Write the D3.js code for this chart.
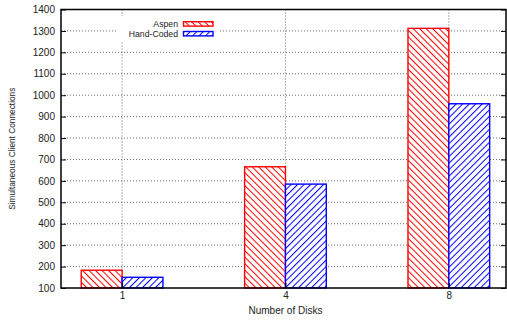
<!DOCTYPE html>
<html>
<head>
<meta charset="utf-8">
<script src="https://cdn.jsdelivr.net/npm/d3@7"></script>
<style>
  html, body { margin: 0; padding: 0; background: #fff; }
  svg { display: block; font-family: "Liberation Sans", Arial, Helvetica, sans-serif; }
</style>
</head>
<body>
<script>
// Simultaneous client connections vs. number of disks
const categories = ["1", "4", "8"];
const aspenValues = [183, 666, 1312];
const handCodedValues = [150, 585, 960];
const seriesNames = ["Aspen", "Hand-Coded"];
const yTickValues = [100, 200, 300, 400, 500, 600, 700, 800, 900, 1000, 1100, 1200, 1300, 1400];

const W = 507, H = 320;
const plotL = 61, plotR = 506, plotT = 9.5, plotB = 288;

const svg = d3.select("body").append("svg")
  .attr("width", W).attr("height", H);

// hatch patterns
const defs = svg.append("defs");
function hatch(id, color, angle) {
  const p = defs.append("pattern")
    .attr("id", id)
    .attr("patternUnits", "userSpaceOnUse")
    .attr("width", 4.6).attr("height", 4.6)
    .attr("patternTransform", `rotate(${angle})`);
  p.append("rect").attr("width", 4.6).attr("height", 4.6).attr("fill", "#fff");
  p.append("line").attr("x1", 0.5).attr("y1", -1).attr("x2", 0.5).attr("y2", 6)
    .attr("stroke", color).attr("stroke-width", 1);
}
hatch("hatchRed", "#ff0000", -45);
hatch("hatchBlue", "#0000ff", 45);

// category index -> x
const x = d3.scaleLinear().domain([-0.374, 2.35]).range([plotL, plotR]);
const y = d3.scaleLinear().domain([100, 1400]).range([plotB, plotT]);
const barW = 0.25;

const grid = svg.append("g");
// horizontal grid
grid.selectAll("line.h").data(yTickValues.slice(1, -1)).join("line")
  .attr("class", "h")
  .attr("x1", plotL).attr("x2", plotR)
  .attr("y1", d => y(d)).attr("y2", d => y(d))
  .attr("stroke", "#444").attr("stroke-width", 0.8).attr("stroke-dasharray", "1,2");
// vertical grid
grid.selectAll("line.v").data(categories).join("line")
  .attr("class", "v")
  .attr("x1", (d, i) => x(i)).attr("x2", (d, i) => x(i))
  .attr("y1", plotT).attr("y2", plotB)
  .attr("stroke", "#444").attr("stroke-width", 0.8).attr("stroke-dasharray", "1,2");

// bars
const series = [
  { name: seriesNames[0], values: aspenValues, fill: "url(#hatchRed)", stroke: "#ff0000", off: -barW },
  { name: seriesNames[1], values: handCodedValues, fill: "url(#hatchBlue)", stroke: "#0000ff", off: 0 }
];
series.forEach(s => {
  svg.append("g").selectAll("rect").data(s.values).join("rect")
    .attr("x", (d, i) => x(i + s.off))
    .attr("width", (d, i) => x(i + s.off + barW) - x(i + s.off))
    .attr("y", d => y(d))
    .attr("height", d => y(100) - y(d))
    .attr("fill", s.fill)
    .attr("stroke", s.stroke).attr("stroke-width", 1.4);
});

// frame
svg.append("rect").attr("x", plotL).attr("y", plotT)
  .attr("width", plotR - plotL).attr("height", plotB - plotT)
  .attr("fill", "none").attr("stroke", "#000").attr("stroke-width", 1.5);

// y axis ticks and labels
const yAxis = d3.axisLeft(y).tickValues(yTickValues).tickFormat(d3.format("d"))
  .tickSize(-5).tickPadding(6);
const ya = svg.append("g").attr("transform", `translate(${plotL},0)`).call(yAxis);
ya.select(".domain").remove();
ya.selectAll(".tick line").attr("stroke", "#000");
ya.selectAll(".tick text").attr("font-size", 10).attr("fill", "#222")
  .attr("font-family", "Liberation Sans, Arial, sans-serif");
// mirrored ticks on the right
const ya2 = svg.append("g").attr("transform", `translate(${plotR},0)`)
  .call(d3.axisRight(y).tickValues(yTickValues).tickSize(-5).tickFormat(""));
ya2.select(".domain").remove();
ya2.selectAll(".tick line").attr("stroke", "#000");

// x axis ticks and labels
const xAxis = d3.axisBottom(x).tickValues([0, 1, 2]).tickFormat(i => categories[i])
  .tickSize(-5).tickPadding(4);
const xa = svg.append("g").attr("transform", `translate(0,${plotB})`).call(xAxis);
xa.select(".domain").remove();
xa.selectAll(".tick line").attr("stroke", "#000");
xa.selectAll(".tick text").attr("font-size", 10).attr("fill", "#222")
  .attr("font-family", "Liberation Sans, Arial, sans-serif");

// axis titles
svg.append("text").attr("x", x(1)).attr("y", 313.5)
  .attr("text-anchor", "middle").attr("font-size", 10).attr("fill", "#222")
  .text("Number of Disks");
svg.append("text")
  .attr("transform", `translate(15,${(plotT + plotB) / 2}) rotate(-90)`)
  .attr("text-anchor", "middle").attr("font-size", 8.3).attr("fill", "#222")
  .text("Simultaneous Client Connections");

// legend
const lg = svg.append("g");
lg.append("rect").attr("x", 116).attr("y", 16).attr("width", 104).attr("height", 25).attr("fill", "#fff");
series.forEach((s, k) => {
  const cy = 23.9 + k * 9.8;
  lg.append("text").attr("x", 178).attr("y", cy + 3.2)
    .attr("text-anchor", "end").attr("font-size", 8.7).attr("fill", "#222").text(s.name);
  lg.append("rect").attr("x", 183.5).attr("y", cy - 2.2).attr("width", 29.5).attr("height", 4.4)
    .attr("fill", s.fill).attr("stroke", s.stroke).attr("stroke-width", 1.4);
});
</script>
</body>
</html>
